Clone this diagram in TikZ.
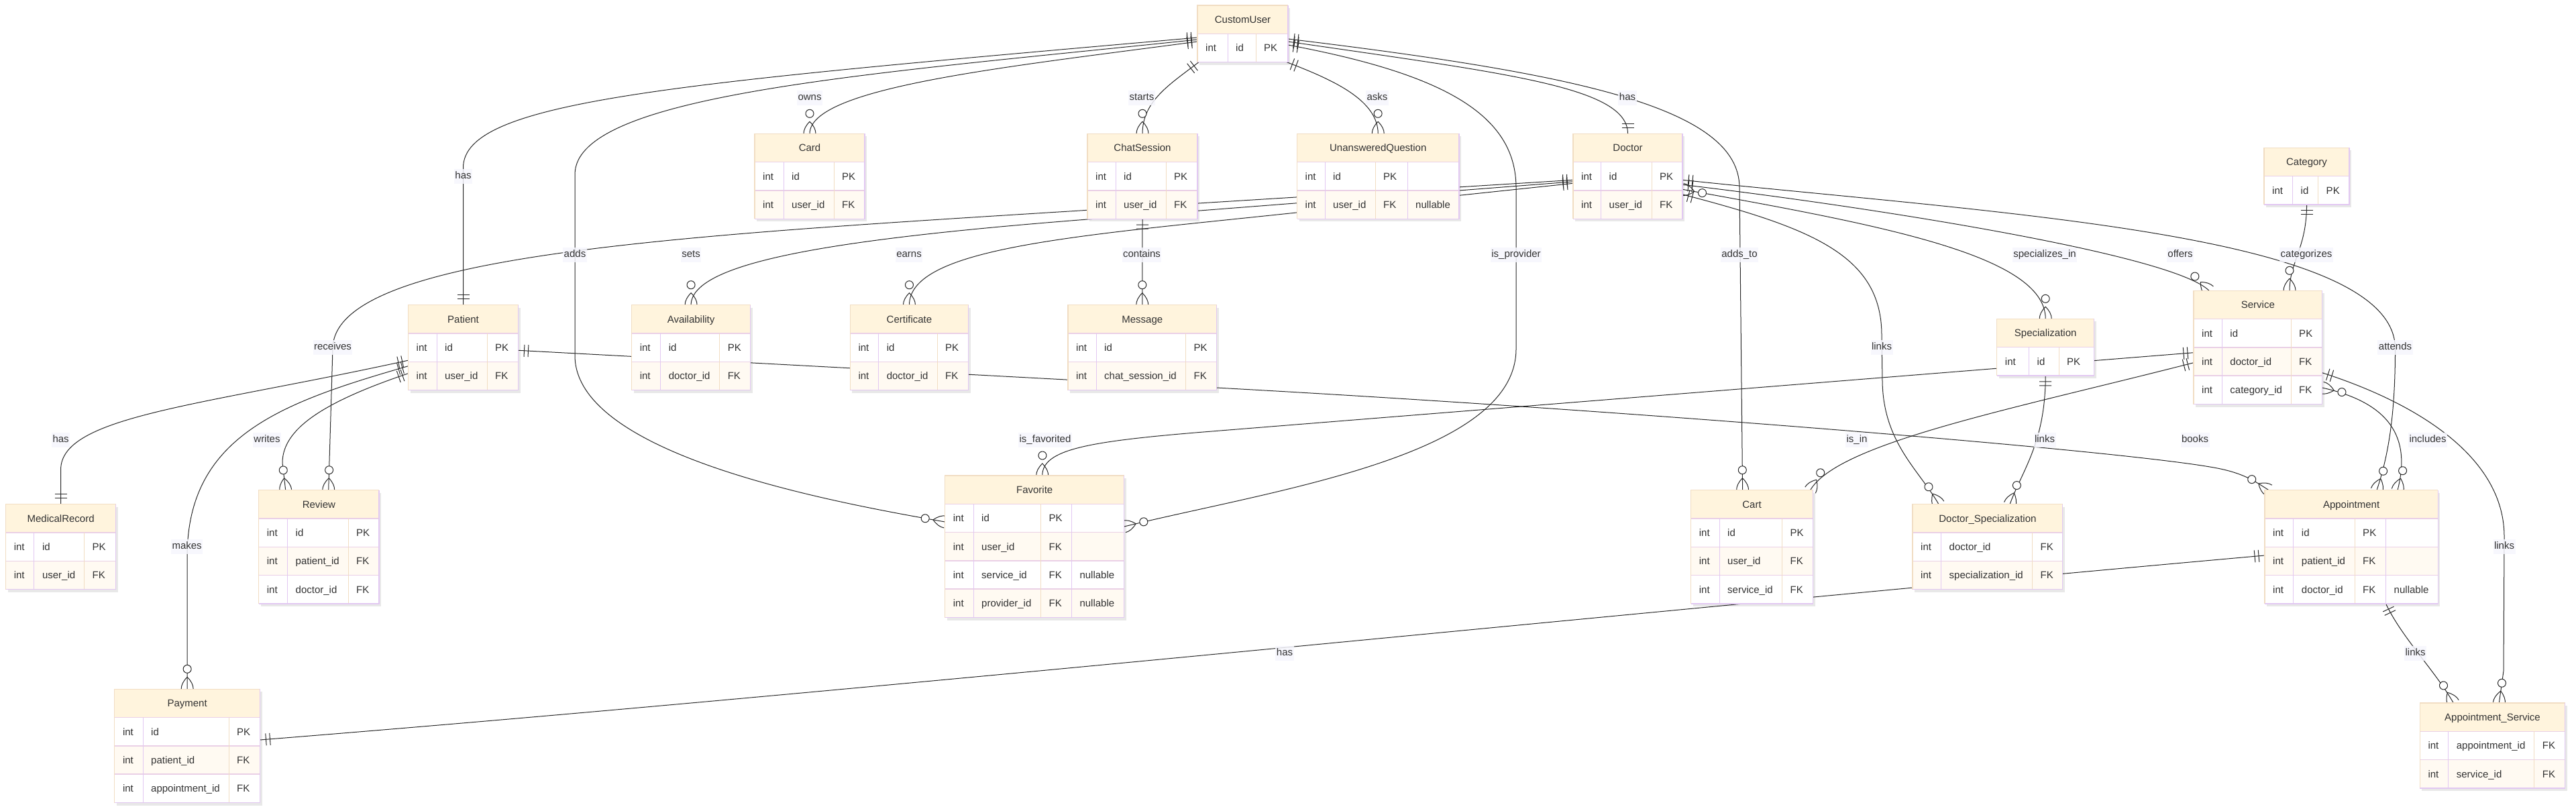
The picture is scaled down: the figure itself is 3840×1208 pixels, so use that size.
\documentclass[tikz,border=0pt]{standalone}
\usepackage{fontspec}
\setmainfont{Liberation Sans}
\usetikzlibrary{calc}

\pgfdeclarelayer{bg}
\pgfdeclarelayer{fg}
\pgfsetlayers{bg,main,fg}

\definecolor{headfill}{RGB}{255,244,221}
\definecolor{rowcream}{RGB}{255,250,242}
\definecolor{bordpurple}{RGB}{226,200,242}
\definecolor{bordtan}{RGB}{241,221,195}
\definecolor{bordmix}{RGB}{234,208,230}
\definecolor{txt}{RGB}{51,51,51}
\definecolor{edgecol}{RGB}{40,40,40}
\definecolor{lblbg}{RGB}{246,246,253}

\pgfdeclarearrow{
  name=ERone,
  setup code={%
    \pgfarrowssettipend{0pt}%
    \pgfarrowssetlineend{0pt}%
    \pgfarrowssetbackend{-16pt}%
    \pgfarrowssetvisualbackend{-16pt}%
    \pgfarrowshullpoint{0pt}{9pt}%
    \pgfarrowshullpoint{0pt}{-9pt}%
    \pgfarrowshullpoint{-16pt}{9pt}%
    \pgfarrowshullpoint{-16pt}{-9pt}%
  },
  drawing code={%
    \pgfsetdash{}{0pt}%
    \pgfpathmoveto{\pgfqpoint{-9pt}{-9pt}}%
    \pgfpathlineto{\pgfqpoint{-9pt}{9pt}}%
    \pgfpathmoveto{\pgfqpoint{-15pt}{-9pt}}%
    \pgfpathlineto{\pgfqpoint{-15pt}{9pt}}%
    \pgfusepathqstroke
  },
}
\pgfdeclarearrow{
  name=ERmany,
  setup code={%
    \pgfarrowssettipend{0pt}%
    \pgfarrowssetlineend{0pt}%
    \pgfarrowssetbackend{-36pt}%
    \pgfarrowssetvisualbackend{-36pt}%
    \pgfarrowshullpoint{0pt}{9pt}%
    \pgfarrowshullpoint{0pt}{-9pt}%
    \pgfarrowshullpoint{-36pt}{6pt}%
    \pgfarrowshullpoint{-36pt}{-6pt}%
  },
  drawing code={%
    \pgfsetdash{}{0pt}%
    \pgfpathmoveto{\pgfqpoint{0pt}{9pt}}%
    \pgfpathquadraticcurveto{\pgfqpoint{-9pt}{9pt}}{\pgfqpoint{-18pt}{0pt}}%
    \pgfpathquadraticcurveto{\pgfqpoint{-9pt}{-9pt}}{\pgfqpoint{0pt}{-9pt}}%
    \pgfusepathqstroke
    \pgfpathcircle{\pgfqpoint{-30pt}{0pt}}{6pt}%
    \pgfsetfillcolor{white}%
    \pgfusepathqfillstroke
  },
}

\newcommand\rowh{42.3}
\def\erparse#1/#2/#3/#4\relax{\def\erwa{#1}\def\erwb{#2}\def\erwc{#3}\def\erwd{#4}}

\tikzset{
  entt/.style={inner sep=0pt, text=txt, font=\fontsize{15}{18}\selectfont, text height=10.7pt, text depth=0pt},
  entc/.style={entt, anchor=west},
  erline/.style={draw=edgecol, line width=1pt},
  lbl/.style={fill=lblbg, fill opacity=0.85, text opacity=1, text=txt, inner xsep=1.5pt, inner ysep=4pt,
    font=\fontsize{15}{18}\selectfont, text height=10.7pt, text depth=3pt},
}

% #1 name, #2 x, #3 y (top), #4 widths a/b/c/d, #5 title, #6 rows
\newcommand\erent[6]{%
  \erparse#4\relax
  \pgfmathsetmacro\erW{\erwa+\erwb+\erwc+\erwd}%
  \gdef\ern{0}%
  \foreach \rr in {#6}{\xdef\ern{\the\numexpr\ern+1\relax}}%
  \pgfmathsetmacro\erH{(\ern+1)*\rowh}%
  \fill[black,opacity=0.09] (#2+3,#3+4) rectangle ++(\erW,\erH);
  \node[inner sep=0pt,outer sep=0pt,fill=white,minimum width=\erW pt,minimum height=\erH pt,anchor=north west] (#1) at (#2,#3) {};
  \fill[headfill] (#2,#3) rectangle ++(\erW,\rowh);
  \node[entt] (#1-t) at (#2+\erW/2,#3+\rowh/2) {#5};
  \foreach [count=\ri] \colA/\colB/\colC/\colD in {#6}{%
    \pgfmathsetmacro\eryy{#3+\ri*\rowh}%
    \ifodd\ri\def\errowcol{white}\else\def\errowcol{rowcream}\fi
    \fill[fill=\errowcol] (#2,\eryy) rectangle ++(\erW,\rowh);
    \node[entc] (#1-\ri-a) at (#2+12,\eryy+\rowh/2) {\colA};
    \node[entc] (#1-\ri-b) at (#2+\erwa+12,\eryy+\rowh/2) {\colB};
    \node[entc] (#1-\ri-c) at (#2+\erwa+\erwb+12,\eryy+\rowh/2) {\colC};
    \node[entc] (#1-\ri-d) at (#2+\erwa+\erwb+\erwc+12,\eryy+\rowh/2) {\colD};
  }
  \foreach \k in {1,...,\ern}{\draw[bordmix,line width=1.5pt] (#2,#3+\k*\rowh) -- ++(\erW,0);}
  \draw[bordpurple,line width=1pt] (#2+\erwa,#3+\rowh) -- (#2+\erwa,#3+\erH);
  \draw[bordtan,line width=1pt] (#2+\erwa+\erwb,#3+\rowh) -- (#2+\erwa+\erwb,#3+\erH);
  \ifdim\erwd pt>0pt \draw[bordpurple,line width=1pt] (#2+\erwa+\erwb+\erwc,#3+\rowh) -- (#2+\erwa+\erwb+\erwc,#3+\erH);\fi
  \draw[bordtan,line width=1.2pt] (#2,#3+\erH) -- (#2,#3) -- (#2+\erW,#3);
  \draw[bordpurple,line width=1.2pt] (#2+\erW,#3) -- (#2+\erW,#3+\erH) -- (#2,#3+\erH);
}

\begin{document}
\begin{tikzpicture}[x=1pt,y=-1pt]
\useasboundingbox (0,0) rectangle (3840,1208);

% ---------------- entities ----------------
\erent{cu}{1785}{8}{45/42/48/0}{CustomUser}{int/id/PK/{}}
\erent{card}{1125}{199.3}{43/75/46/0}{Card}{int/id/PK/{}, int/user\_id/FK/{}}
\erent{chat}{1621}{199.3}{42/75/47/0}{ChatSession}{int/id/PK/{}, int/user\_id/FK/{}}
\erent{uq}{1933.5}{199.3}{41.5/75/48/77}{UnansweredQuestion}{int/id/PK/{}, int/user\_id/FK/nullable}
\erent{doc}{2345}{199.3}{41.5/75.5/46/0}{Doctor}{int/id/PK/{}, int/user\_id/FK/{}}
\erent{cat}{3375}{220.3}{42.5/38/46.5/0}{Category}{int/id/PK/{}}
\erent{pat}{608.5}{454.7}{42.5/75/46.5/0}{Patient}{int/id/PK/{}, int/user\_id/FK/{}}
\erent{avail}{941.6}{454.7}{43/88/46/0}{Availability}{int/id/PK/{}, int/doctor\_id/FK/{}}
\erent{cert}{1267.3}{454.7}{42.3/87.4/46.6/0}{Certificate}{int/id/PK/{}, int/doctor\_id/FK/{}}
\erent{msg}{1592}{454.7}{42/133.5/46/0}{Message}{int/id/PK/{}, int/chat\_session\_id/FK/{}}
\erent{fav}{1408.7}{709}{42.3/100.4/45.9/78.4}{Favorite}{int/id/PK/{}, int/user\_id/FK/{}, int/service\_id/FK/nullable, int/provider\_id/FK/nullable}
\erent{cart}{2520.6}{730.7}{42.4/93.5/46/0}{Cart}{int/id/PK/{}, int/user\_id/FK/{}, int/service\_id/FK/{}}
\erent{spec}{2976.7}{475.3}{47.8/44.5/52.7/0}{Specialization}{int/id/PK/{}}
\erent{serv}{3270}{433.3}{42.2/102.8/46.6/0}{Service}{int/id/PK/{}, int/doctor\_id/FK/{}, int/category\_id/FK/{}}
\erent{appt}{3376}{730.7}{42.7/91.3/46.5/77.7}{Appointment}{int/id/PK/{}, int/patient\_id/FK/{}, int/doctor\_id/FK/nullable}
\erent{ds}{2851}{751.7}{42.5/136/45.3/0}{Doctor\_Specialization}{int/doctor\_id/FK/{}, int/specialization\_id/FK/{}}
\erent{as}{3607.3}{1048}{42.3/128/46/0}{Appointment\_Service}{int/appointment\_id/FK/{}, int/service\_id/FK/{}}
\erent{mr}{8.6}{751.7}{42.2/74.7/47.1/0}{MedicalRecord}{int/id/PK/{}, int/user\_id/FK/{}}
\erent{rev}{385.7}{730.7}{42.8/90.5/46/0}{Review}{int/id/PK/{}, int/patient\_id/FK/{}, int/doctor\_id/FK/{}}
\erent{pay}{170.8}{1027.3}{42.2/128/46.5/0}{Payment}{int/id/PK/{}, int/patient\_id/FK/{}, int/appointment\_id/FK/{}}

% ---------------- connectors ----------------
\begin{pgfonlayer}{bg}
\fill[white] (0,0) rectangle (3840,1208);
% CustomUser left side
\draw[erline,arrows={ERone-ERone}] ($(cu.north west)+(0,48)$) .. controls (1000,125) and (690.5,150) .. (690.5,250) -- (pat.north);
\draw[erline,arrows={ERone-ERmany}] ($(cu.north west)+(0,51)$) .. controls (1300,110) and (857,140) .. (857,260) -- (857,530) .. controls (857,680) and (1250,750) .. ($(fav.north west)+(0,69)$);
\draw[erline,arrows={ERone-ERmany}] ($(cu.north west)+(0,54)$) .. controls (1500,100) and (1207,130) .. (card.north);
\draw[erline,arrows={ERone-ERmany}] ($(cu.south west)+(2,0)$) .. controls (1745,125) and (1703,150) .. (chat.north);
% CustomUser right side
\draw[erline,arrows={ERone-ERmany}] ($(cu.south east)+(-2,0)$) .. controls (1990,120) and (2054,150) .. (uq.north);
\draw[erline,arrows={ERone-ERmany}] ($(cu.north east)+(0,59)$) .. controls (2150,110) and (2260,170) .. (2260,280) -- (2260,520) .. controls (2260,680) and (1900,730) .. ($(fav.north east)+(0,76)$);
\draw[erline,arrows={ERone-ERone}] ($(cu.north east)+(0,54)$) .. controls (2250,110) and (2426.5,130) .. (doc.north);
\draw[erline,arrows={ERone-ERmany}] ($(cu.north east)+(0,50)$) .. controls (2350,110) and (2593,160) .. (2593,280) -- ($(cart.north west)+(77,0)$);
% Doctor left side
\draw[erline,arrows={ERone-ERmany}] ($(doc.north west)+(0,69)$) -- (1621,313.3) .. controls (1000,352) and (496,380) .. (496,520) -- ($(rev.north west)+(104,0)$);
\draw[erline,arrows={ERone-ERmany}] ($(doc.north west)+(0,71.5)$) -- (1621,327) .. controls (1250,356) and (1030,390) .. (avail.north);
\draw[erline,arrows={ERone-ERmany}] ($(doc.north west)+(0,74)$) -- (1920,318.3) .. controls (1600,352) and (1355.5,370) .. (cert.north);
% ChatSession - Message
\draw[erline,arrows={ERone-ERmany}] (chat.south) -- (msg.north);
% Patient
\draw[erline,arrows={ERone-ERmany}] ($(pat.north east)+(0,67.6)$) -- (1813.4,578) .. controls (2400,610) and (3150,670) .. (3300,697) .. controls (3345,705) and (3362,718) .. ($(appt.north west)+(6,0)$);
\draw[erline,arrows={ERone-ERone}] ($(pat.north west)+(0,82.5)$) .. controls (300,605) and (90.6,620) .. (90.6,700) -- (mr.north);
\draw[erline,arrows={ERone-ERmany}] ($(pat.north west)+(0,91)$) .. controls (420,600) and (279,650) .. (279,830) -- (pay.north);
\draw[erline,arrows={ERone-ERmany}] ($(pat.north west)+(0,102)$) .. controls (480,600) and (421,640) .. (421,690) -- ($(rev.north west)+(40,0)$);
% Service left side
\draw[erline,arrows={ERone-ERmany}] ($(serv.north west)+(0,92.4)$) -- (1800,643.5) .. controls (1620,658) and (1554,670) .. ($(fav.north west)+(145,0)$);
\draw[erline,arrows={ERone-ERmany}] ($(serv.north west)+(0,107.4)$) .. controls (3000,610) and (2740,660) .. ($(cart.north east)+(-4,0)$);
% Doctor right side
\draw[erline,arrows={ERmany-ERmany}] ($(doc.north east)+(0,83)$) .. controls (2800,335) and (3049,380) .. (spec.north);
\draw[erline,arrows={ERone-ERmany}] ($(doc.north east)+(0,76)$) .. controls (2800,310) and (3240,380) .. ($(serv.north west)+(23,0)$);
\draw[erline,arrows={ERone-ERmany}] ($(doc.north east)+(0,69)$) .. controls (3000,320) and (3570.5,350) .. (3570.5,520) .. controls (3570.5,620) and (3560,680) .. ($(appt.north west)+(167,0)$);
\draw[erline,arrows={ERone-ERmany}] ($(doc.north east)+(0,90.5)$) .. controls (2700,340) and (2805,380) .. (2805,500) -- (2806,570) .. controls (2808,660) and (2860,700) .. ($(ds.north west)+(39,0)$);
% Category, Specialization, Service, Appointment
\draw[erline,arrows={ERone-ERmany}] (cat.south) .. controls (3438.5,370) and (3413,390) .. ($(serv.north west)+(143,0)$);
\draw[erline,arrows={ERone-ERmany}] (spec.south) .. controls (3049,660) and (3015,700) .. ($(ds.north west)+(145,0)$);
\draw[erline,arrows={ERone-ERmany}] ($(serv.north east)+(0,122.4)$) .. controls (3600,600) and (3733,680) .. (3733,800) -- (3732,1000) -- ($(as.north west)+(118,0)$);
\draw[erline,arrows={ERmany-ERmany}] ($(serv.north east)+(0,144.7)$) .. controls (3560,600) and (3595,650) .. ($(appt.north west)+(198,0)$);
\draw[erline,arrows={ERone-ERmany}] ($(appt.south west)+(180.5,0)$) .. controls (3580,950) and (3630,1000) .. ($(as.north west)+(50,0)$);
\draw[erline,arrows={ERone-ERone}] ($(appt.north west)+(0,97.3)$) .. controls (2400,915) and (1300,1030) .. ($(pay.north east)+(0,75.7)$);
\end{pgfonlayer}

% ---------------- labels ----------------
\begin{pgfonlayer}{fg}
\node[lbl] (lb1) at (1207,146) {owns};
\node[lbl] (lb2) at (1702,146) {starts};
\node[lbl] (lb3) at (2053,146) {asks};
\node[lbl] (lb4) at (2426,146) {has};
\node[lbl] (lb5) at (690.5,263) {has};
\node[lbl] (lb6) at (857,380) {adds};
\node[lbl] (lb7) at (1030,380) {sets};
\node[lbl] (lb8) at (1355,380) {earns};
\node[lbl] (lb9) at (1702,380) {contains};
\node[lbl] (lb10) at (2260,380) {is\_provider};
\node[lbl] (lb11) at (2593,380) {adds\_to};
\node[lbl] (lb12) at (3048,380) {specializes\_in};
\node[lbl] (lb13) at (3250,380) {offers};
\node[lbl] (lb14) at (3438,380) {categorizes};
\node[lbl] (lb15) at (496,518) {receives};
\node[lbl] (lb16) at (2805,518) {links};
\node[lbl] (lb17) at (3570.5,518) {attends};
\node[lbl] (lb18) at (90.6,656) {has};
\node[lbl] (lb19) at (398,656) {writes};
\node[lbl] (lb20) at (1558,656) {is\_favorited};
\node[lbl] (lb21) at (2768,656) {is\_in};
\node[lbl] (lb22) at (3048,656) {links};
\node[lbl] (lb23) at (3272,656) {books};
\node[lbl] (lb24) at (3619,656) {includes};
\node[lbl] (lb25) at (278.6,815) {makes};
\node[lbl] (lb26) at (3733,815) {links};
\node[lbl] (lb27) at (1915,974) {has};
\node[lbl] (lb28) at (3600.6,974) {links};
\end{pgfonlayer}
\end{tikzpicture}
\end{document}
